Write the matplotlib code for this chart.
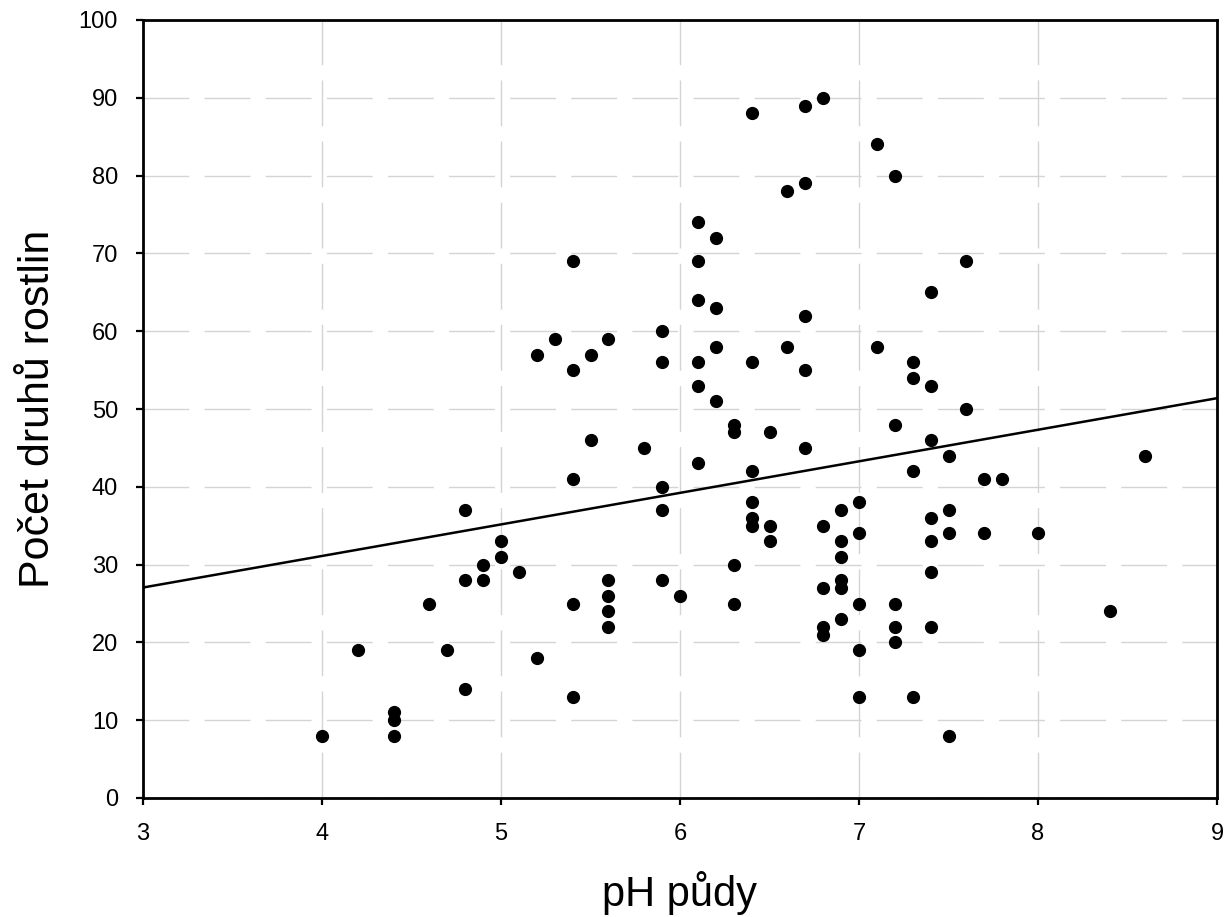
import numpy as np
import matplotlib
matplotlib.use('Agg')
import matplotlib.pyplot as plt

# data: pH values and species counts
ph = [4.0, 4.2, 4.4, 4.4, 4.4, 4.6, 4.7, 4.8, 4.8, 4.8,
      4.9, 4.9, 5.0, 5.0, 5.1, 5.2, 5.2, 5.3,
      5.4, 5.4, 5.4, 5.4, 5.4, 5.5, 5.5,
      5.6, 5.6, 5.6, 5.6, 5.6, 5.8,
      5.9, 5.9, 5.9, 5.9, 5.9, 6.0,
      6.1, 6.1, 6.1, 6.1, 6.1, 6.1,
      6.2, 6.2, 6.2, 6.2, 6.3, 6.3, 6.3, 6.3,
      6.4, 6.4, 6.4, 6.4, 6.4, 6.4, 6.5, 6.5, 6.5,
      6.6, 6.6, 6.7, 6.7, 6.7, 6.7, 6.7,
      6.8, 6.8, 6.8, 6.8, 6.8,
      6.9, 6.9, 6.9, 6.9, 6.9, 6.9,
      7.0, 7.0, 7.0, 7.0, 7.0, 7.1, 7.1,
      7.2, 7.2, 7.2, 7.2, 7.2, 7.3, 7.3, 7.3, 7.3,
      7.4, 7.4, 7.4, 7.4, 7.4, 7.4, 7.4,
      7.5, 7.5, 7.5, 7.5, 7.6, 7.6, 7.7, 7.7, 7.8,
      8.0, 8.4, 8.6]
species = [8, 19, 11, 10, 8, 25, 19, 37, 28, 14,
           30, 28, 33, 31, 29, 57, 18, 59,
           69, 55, 41, 25, 13, 57, 46,
           59, 28, 26, 24, 22, 45,
           60, 56, 40, 37, 28, 26,
           74, 69, 64, 56, 53, 43,
           72, 63, 58, 51, 48, 47, 30, 25,
           88, 56, 42, 38, 36, 35, 47, 35, 33,
           78, 58, 89, 79, 62, 55, 45,
           90, 35, 27, 22, 21,
           37, 33, 31, 28, 27, 23,
           38, 34, 25, 19, 13, 84, 58,
           80, 48, 25, 22, 20, 56, 54, 42, 13,
           65, 53, 46, 36, 33, 29, 22,
           44, 37, 34, 8, 69, 50, 41, 34, 41,
           34, 24, 44]

x_ticks = [3, 4, 5, 6, 7, 8, 9]
y_ticks = list(range(0, 101, 10))

plt.rcParams['font.family'] = ['Liberation Sans', 'DejaVu Sans']
plt.rcParams['lines.scale_dashes'] = False

fig = plt.figure(figsize=(12.26, 9.17), dpi=100)
ax = fig.add_axes([143/1226, 1-798/917, 1074/1226, 778/917])

# linear fit
k, q = np.polyfit(ph, species, 1)
xx = np.array([3, 9])
ax.plot(xx, k*xx + q, color='black', lw=1.8, zorder=3)

ax.plot(ph, species, 'o', color='black', markersize=8.5, zorder=4)

ax.set_xlim(3, 9)
ax.set_ylim(0, 100)
ax.set_xticks(x_ticks)
ax.set_yticks(y_ticks)
ax.grid(True, color='#d4d4d4', lw=1.0, dashes=(33, 11))
ax.set_axisbelow(True)

for s in ax.spines.values():
    s.set_linewidth(2)
ax.tick_params(direction='out', length=5, width=1.6, labelsize=17, pad=13)

ax.set_xlabel('pH půdy', fontsize=30, va='baseline')
ax.xaxis.set_label_coords(0.5, -0.139)
ax.set_ylabel('Počet druhů rostlin', fontsize=31)
ax.yaxis.set_label_coords(-0.079, 0.5)

plt.savefig('out.png', dpi=100)
